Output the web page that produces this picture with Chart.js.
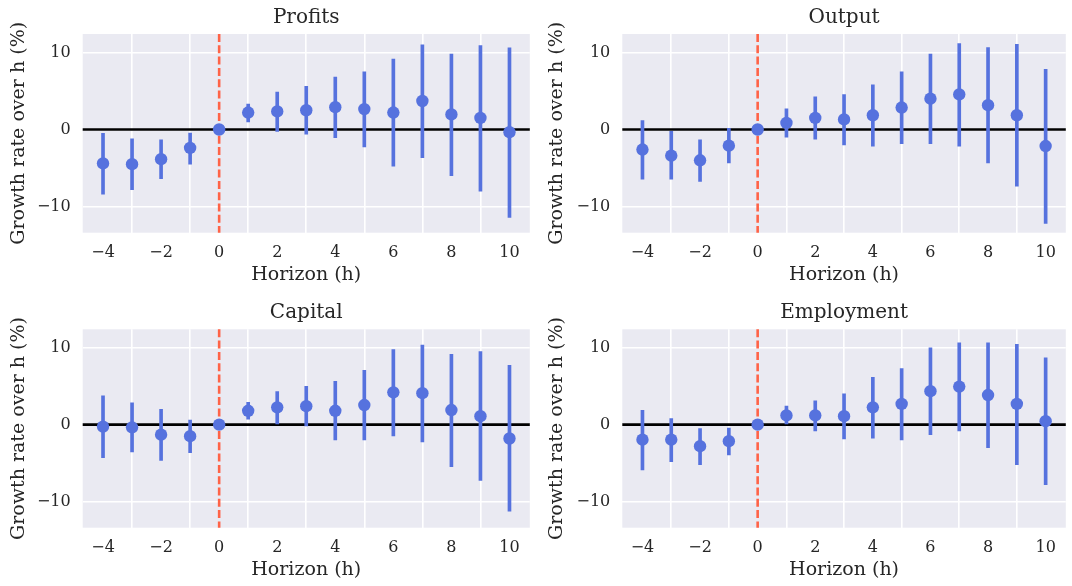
<!DOCTYPE html>
<html>
<head>
<meta charset="utf-8">
<script src="https://cdn.jsdelivr.net/npm/chart.js@4.4.1/dist/chart.umd.min.js"></script>
<style>
  body { margin: 0; background: #ffffff; }
  #wrap { position: relative; width: 1072px; height: 586px; }
  canvas { position: absolute; }
</style>
</head>
<body>
<div id="wrap">
  <canvas id="c1"></canvas>
  <canvas id="c2"></canvas>
  <canvas id="c3"></canvas>
  <canvas id="c4"></canvas>
</div>
<script>
// horizons and tick values
const horizons = [-4, -3, -2, -1, 0, 1, 2, 3, 4, 5, 6, 7, 8, 9, 10];
const xTicks = [-4, -2, 0, 2, 4, 6, 8, 10];
const yTicks = [-10, 0, 10];

// Profits
const profitsCoef = [-4.4, -4.5, -3.85, -2.4, 0, 2.2, 2.35, 2.5, 2.9, 2.65, 2.2, 3.7, 1.95, 1.5, -0.35];
const profitsLo   = [-8.4, -7.8, -6.4, -4.5, 0, 1.0, -0.25, -0.6, -1.05, -2.25, -4.75, -3.65, -6.0, -8.0, -11.4];
const profitsHi   = [-0.5, -1.2, -1.35, -0.45, 0, 3.3, 4.85, 5.6, 6.8, 7.5, 9.15, 11.0, 9.8, 10.9, 10.6];

// Output
const outputCoef = [-2.6, -3.4, -4.0, -2.1, 0, 0.85, 1.5, 1.3, 1.85, 2.85, 4.0, 4.55, 3.15, 1.85, -2.15];
const outputLo   = [-6.45, -6.45, -6.75, -4.35, 0, -1.0, -1.25, -2.0, -2.15, -1.85, -1.85, -2.15, -4.35, -7.35, -12.2];
const outputHi   = [1.15, -0.25, -1.35, 0.15, 0, 2.7, 4.25, 4.55, 5.8, 7.5, 9.8, 11.15, 10.65, 11.05, 7.8];

// Capital
const capitalCoef = [-0.25, -0.35, -1.3, -1.5, 0, 1.8, 2.25, 2.4, 1.8, 2.55, 4.2, 4.1, 1.9, 1.1, -1.8];
const capitalLo   = [-4.3, -3.55, -4.65, -3.65, 0, 0.7, 0.1, -0.15, -2.0, -2.0, -1.45, -2.25, -5.45, -7.25, -11.25];
const capitalHi   = [3.75, 2.85, 2.0, 0.6, 0, 2.9, 4.3, 5.0, 5.65, 7.05, 9.75, 10.35, 9.15, 9.5, 7.7];

// Employment
const employmentCoef = [-1.95, -1.95, -2.8, -2.15, 0, 1.2, 1.2, 1.1, 2.25, 2.7, 4.35, 4.95, 3.85, 2.7, 0.45];
const employmentLo   = [-5.9, -4.8, -5.2, -3.95, 0, 0.1, -0.8, -1.85, -1.75, -2.0, -1.3, -0.8, -3.0, -5.2, -7.8];
const employmentHi   = [1.85, 0.8, -0.5, -0.45, 0, 2.4, 3.1, 4.0, 6.15, 7.3, 10.0, 10.65, 10.65, 10.45, 8.7];

// shared axis limits (matplotlib sharey + margins)
const xMin = -4.7, xMax = 10.7;
const yMin = -13.4, yMax = 12.4;

const FONT = "'DejaVu Serif', serif";
const TEXT = '#262626';
const BLUE = '#5672DE';

function fmt(v) {
    return v < 0 ? '\u2212' + Math.abs(v) : String(v);
}

// fondo gris del área, líneas de referencia y título
const panelPlugin = {
    id: 'panelPlugin',
    beforeDraw(chart) {
        const a = chart.chartArea;
        const ctx = chart.ctx;
        ctx.save();
        ctx.fillStyle = '#EAEAF2';
        ctx.fillRect(a.left, a.top, a.right - a.left, a.bottom - a.top);
        ctx.restore();
    },
    beforeDatasetsDraw(chart) {
        const a = chart.chartArea;
        const ctx = chart.ctx;
        const y0 = chart.scales.y.getPixelForValue(0);
        const x0 = chart.scales.x.getPixelForValue(0);
        ctx.save();
        ctx.strokeStyle = '#000000';
        ctx.lineWidth = 2.6;
        ctx.beginPath();
        ctx.moveTo(a.left, y0);
        ctx.lineTo(a.right, y0);
        ctx.stroke();
        ctx.strokeStyle = '#FF6347';
        ctx.lineWidth = 2.6;
        ctx.setLineDash([8, 3.3]);
        ctx.beginPath();
        ctx.moveTo(x0, a.top);
        ctx.lineTo(x0, a.bottom);
        ctx.stroke();
        ctx.restore();
    },
    afterDraw(chart) {
        const a = chart.chartArea;
        const ctx = chart.ctx;
        ctx.save();
        ctx.fillStyle = TEXT;
        ctx.font = "20px " + FONT;
        ctx.textAlign = 'center';
        ctx.textBaseline = 'alphabetic';
        ctx.fillText(chart.options.plugins.panelPlugin.title, (a.left + a.right) / 2, a.top - 11);
        ctx.restore();
    }
};

function makePanel(id, title, coef, lo, hi, box) {
    const canvas = document.getElementById(id);
    canvas.width = box.width;
    canvas.height = box.height;
    canvas.style.left = box.left + 'px';
    canvas.style.top = box.top + 'px';
    canvas.style.width = box.width + 'px';
    canvas.style.height = box.height + 'px';

    const yAxisWidth = box.areaLeft - box.left;
    const xAxisHeight = box.top + box.height - box.areaBottom;

    return new Chart(canvas.getContext('2d'), {
        type: 'scatter',
        data: {
            datasets: [
                {
                    type: 'bar',
                    data: horizons.map((h, i) => ({ x: h, y: [lo[i], hi[i]] })),
                    backgroundColor: BLUE,
                    borderWidth: 0,
                    barThickness: 3,
                    grouped: false,
                    order: 2
                },
                {
                    type: 'scatter',
                    data: horizons.map((h, i) => ({ x: h, y: coef[i] })),
                    backgroundColor: BLUE,
                    borderWidth: 0,
                    pointRadius: 6.2,
                    pointHoverRadius: 6.2,
                    order: 1
                }
            ]
        },
        options: {
            responsive: false,
            animation: false,
            devicePixelRatio: 1,
            layout: {
                padding: {
                    top: box.areaTop - box.top,
                    right: box.left + box.width - box.areaRight,
                    bottom: 0,
                    left: 0
                }
            },
            plugins: {
                legend: { display: false },
                tooltip: { enabled: false },
                panelPlugin: { title: title }
            },
            scales: {
                x: {
                    type: 'linear',
                    min: xMin,
                    max: xMax,
                    offset: false,
                    afterBuildTicks: (scale) => { scale.ticks = xTicks.map(v => ({ value: v })); },
                    afterFit: (scale) => { scale.height = xAxisHeight; },
                    grid: { color: '#ffffff', lineWidth: 1.6, drawTicks: false },
                    border: { display: false },
                    ticks: {
                        color: TEXT,
                        font: { family: FONT, size: 16 },
                        padding: 11,
                        maxRotation: 0,
                        callback: (v) => fmt(v)
                    },
                    title: {
                        display: true,
                        text: 'Horizon (h)',
                        color: TEXT,
                        font: { family: FONT, size: 19 },
                        padding: { top: 0, bottom: box.xTitlePad }
                    }
                },
                y: {
                    type: 'linear',
                    min: yMin,
                    max: yMax,
                    afterBuildTicks: (scale) => { scale.ticks = yTicks.map(v => ({ value: v })); },
                    afterFit: (scale) => { scale.width = yAxisWidth; },
                    grid: { color: '#ffffff', lineWidth: 1.6, drawTicks: false },
                    border: { display: false },
                    ticks: {
                        color: TEXT,
                        font: { family: FONT, size: 16 },
                        padding: 12,
                        callback: (v) => fmt(v)
                    },
                    title: {
                        display: true,
                        text: 'Growth rate over h (%)',
                        color: TEXT,
                        font: { family: FONT, size: 19 },
                        padding: { top: box.yTitlePad, bottom: 0 }
                    }
                }
            }
        }
        ,
        plugins: [panelPlugin]
    });
}

makePanel('c1', 'Profits', profitsCoef, profitsLo, profitsHi,
    { left: 0, top: 0, width: 536, height: 293, areaLeft: 82.7, areaRight: 531.7, areaTop: 34, areaBottom: 232.7, xTitlePad: 6.5, yTitlePad: 8 });
makePanel('c2', 'Output', outputCoef, outputLo, outputHi,
    { left: 536, top: 0, width: 536, height: 293, areaLeft: 622.3, areaRight: 1071, areaTop: 34, areaBottom: 232.7, xTitlePad: 6.5, yTitlePad: 10 });
makePanel('c3', 'Capital', capitalCoef, capitalLo, capitalHi,
    { left: 0, top: 293, width: 536, height: 293, areaLeft: 82.7, areaRight: 531.7, areaTop: 329.3, areaBottom: 527.7, xTitlePad: 4.5, yTitlePad: 8 });
makePanel('c4', 'Employment', employmentCoef, employmentLo, employmentHi,
    { left: 536, top: 293, width: 536, height: 293, areaLeft: 622.3, areaRight: 1071, areaTop: 329.3, areaBottom: 527.7, xTitlePad: 4.5, yTitlePad: 10 });
</script>
</body>
</html>
